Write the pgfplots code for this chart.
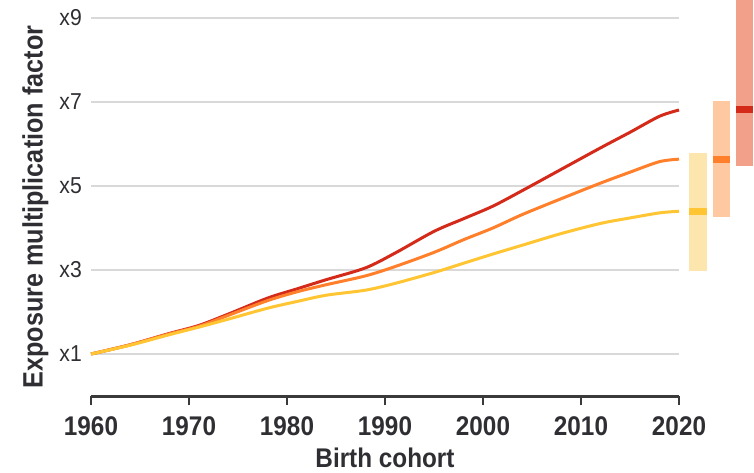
\documentclass[border=0pt]{standalone}
\usepackage{fontspec}
\setmainfont{Liberation Sans}[FakeStretch=0.9]
\newfontfamily\tickfont{Liberation Sans}[FakeStretch=0.92]
\usepackage{pgfplots}
\pgfplotsset{compat=1.18}

\definecolor{cred}{HTML}{D42A1A}
\definecolor{corange}{HTML}{FF7F2A}
\definecolor{cyellow}{HTML}{FFC533}
\definecolor{bred}{HTML}{F2A08A}
\definecolor{borange}{HTML}{FEC8A0}
\definecolor{byellow}{HTML}{FDE6AE}
\definecolor{axisgray}{HTML}{3A3A3A}
\definecolor{gridgray}{HTML}{D9D9D9}
\definecolor{textgray}{HTML}{2E2E33}

\begin{document}
\begin{tikzpicture}
\begin{axis}[
    scale only axis, width=588pt, height=396pt,
    xmin=1960, xmax=2020, ymin=0, ymax=9.43,
    clip=false,
    axis x line*=bottom, axis y line*=left,
    y axis line style={draw=none},
    x axis line style={draw=axisgray, line width=3pt},
    tick align=outside, major tick length=9pt,
    xtick={1960,1970,1980,1990,2000,2010,2020},
    xticklabels={1960,1970,1980,1990,2000,2010,2020},
    xtick style={draw=axisgray, line width=1.2pt},
    xticklabel style={font=\fontsize{27}{30}\selectfont\bfseries, text=textgray, anchor=base, yshift=-30pt},
    ytick={1,3,5,7,9},
    yticklabels={x1,x3,x5,x7,x9},
    ytick style={draw=none},
    yticklabel style={font=\tickfont\fontsize{23}{25}\selectfont, text=textgray, anchor=east, inner sep=0pt, xshift=0pt},
    ymajorgrids, grid style={draw=gridgray, line width=1.5pt},
    xlabel={Birth cohort},
    xlabel style={at={(axis description cs:0.5,0)}, anchor=base, yshift=-71pt, font=\fontsize{27}{30}\selectfont\bfseries, text=textgray},
    ylabel={Exposure multiplication factor},
    ylabel style={at={(axis description cs:-0.0821,0.477)}, anchor=base, font=\fontsize{28}{30}\selectfont\bfseries, text=textgray},
]
% red scenario
\addplot[cred, line width=3pt, smooth] coordinates {
(1960,1.00)(1964,1.22)(1968,1.49)(1971,1.68)(1974,1.95)(1978,2.33)(1981,2.55)(1984,2.77)(1988,3.05)(1991,3.40)(1995,3.92)(1998,4.22)(2001,4.52)(2004,4.89)(2008,5.40)(2012,5.91)(2015,6.28)(2018,6.66)(2020,6.81)};
% orange scenario
\addplot[corange, line width=3pt, smooth] coordinates {
(1960,1.00)(1964,1.22)(1968,1.48)(1971,1.66)(1974,1.92)(1978,2.27)(1981,2.48)(1984,2.65)(1988,2.86)(1991,3.08)(1995,3.42)(1998,3.72)(2001,4.00)(2004,4.32)(2008,4.70)(2012,5.07)(2015,5.33)(2018,5.58)(2020,5.64)};
% yellow scenario
\addplot[cyellow, line width=3pt, smooth] coordinates {
(1960,1.00)(1964,1.21)(1968,1.46)(1971,1.64)(1974,1.83)(1978,2.09)(1981,2.25)(1984,2.40)(1988,2.52)(1991,2.68)(1995,2.94)(1998,3.16)(2001,3.38)(2004,3.59)(2008,3.87)(2012,4.11)(2015,4.24)(2018,4.36)(2020,4.40)};

% ranges in 2020
\addplot[fill=byellow, draw=none] coordinates {(2021.0,2.98)(2022.9,2.98)(2022.9,5.79)(2021.0,5.79)} -- cycle;
\addplot[fill=cyellow, draw=none] coordinates {(2021.0,4.32)(2022.9,4.32)(2022.9,4.48)(2021.0,4.48)} -- cycle;
\addplot[fill=borange, draw=none] coordinates {(2023.5,4.26)(2025.2,4.26)(2025.2,7.02)(2023.5,7.02)} -- cycle;
\addplot[fill=corange, draw=none] coordinates {(2023.5,5.56)(2025.2,5.56)(2025.2,5.72)(2023.5,5.72)} -- cycle;
\addplot[fill=bred, draw=none] coordinates {(2025.8,5.48)(2027.6,5.48)(2027.6,9.43)(2025.8,9.43)} -- cycle;
\addplot[fill=cred, draw=none] coordinates {(2025.8,6.75)(2027.6,6.75)(2027.6,6.91)(2025.8,6.91)} -- cycle;
\end{axis}
\pgfresetboundingbox
\path[use as bounding box] (-91pt,-76pt) rectangle (663pt,396pt);
\end{tikzpicture}
\end{document}
